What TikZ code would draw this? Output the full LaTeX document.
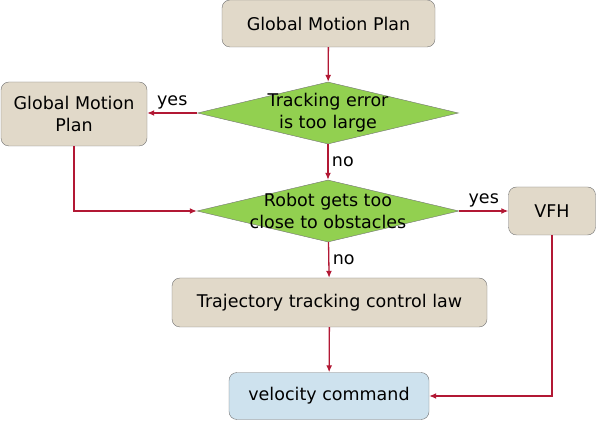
\documentclass[tikz,border=0pt]{standalone}
\usepackage{fontspec}
\setmainfont{DejaVu Sans}
\usetikzlibrary{shapes.geometric,arrows.meta}
\definecolor{boxbeige}{RGB}{225,217,201}
\definecolor{diagreen}{RGB}{146,208,80}
\definecolor{cmdblue}{RGB}{206,226,238}
\definecolor{flowred}{RGB}{178,24,52}

\begin{document}
\begin{tikzpicture}[x=1pt,y=1pt,font=\fontsize{17.5}{22}\selectfont,
    stepbox/.style={draw=gray!90!black,fill=boxbeige,rounded corners=8pt,align=center,inner sep=0pt},
    decision/.style={diamond,draw=gray!90!black,fill=diagreen,inner sep=0pt},
    flow/.style={draw=flowred,line width=1.3pt,-{Latex[length=7pt,width=6pt]}}]
    \useasboundingbox (0,0) rectangle (596,420);
    \node[stepbox,minimum width=213pt,minimum height=47pt] (plan) at (328.5,396.5) {Global Motion Plan};
    \node[decision,minimum width=261pt,minimum height=62pt,label={[align=center]center:Tracking error\\is too large}] (track) at (328,307) {};
    \node[stepbox,minimum width=146pt,minimum height=64pt] (replan) at (74,306) {Global Motion\\Plan};
    \node[decision,minimum width=262pt,minimum height=62pt,label={[align=center]center:Robot gets too\\close to obstacles}] (close) at (328,209) {};
    \node[stepbox,minimum width=87pt,minimum height=48pt] (vfh) at (552,209) {VFH};
    \node[stepbox,minimum width=315pt,minimum height=49pt] (law) at (329.5,117.5) {Trajectory tracking control law};
    \node[stepbox,fill=cmdblue,minimum width=200pt,minimum height=47pt] (vel) at (329,24) {velocity command};
    \draw[flow] (plan) -- (track);
    \draw[flow] (track.west) -- node[above] {yes} (track.west -| replan.east);
    \draw[flow] (track) -- node[right] {no} (close);
    \draw[flow] (replan.south) |- (close.west);
    \draw[flow] (close.east) -- node[above] {yes} (vfh.west);
    \draw[flow] (close) -- node[right] {no} (law);
    \draw[flow] (law) -- (vel);
    \draw[flow] (vfh.south) |- (vel.east);
\end{tikzpicture}
\end{document}
